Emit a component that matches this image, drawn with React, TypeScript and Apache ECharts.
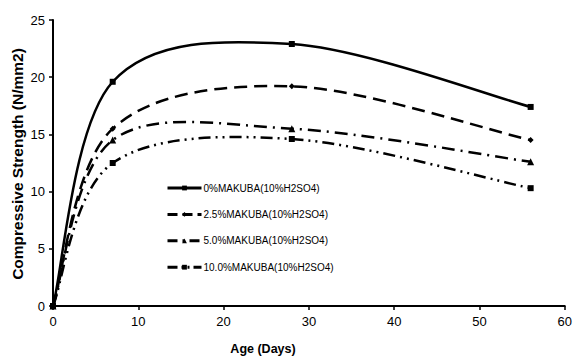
import React, { useEffect, useRef } from "react";
import * as echarts from "echarts";

// Curing age in days
const ages = [0, 7, 28, 56];

// Compressive strength (N/mm2) per MAKUBA replacement level, cured in 10% H2SO4
const mak0 = [0, 19.6, 22.9, 17.4];
const mak25 = [0, 15.5, 19.2, 14.5];
const mak50 = [0, 14.5, 15.5, 12.6];
const mak100 = [0, 12.5, 14.6, 10.3];

const seriesNames = [
  "0%MAKUBA(10%H2SO4)",
  "2.5%MAKUBA(10%H2SO4)",
  "5.0%MAKUBA(10%H2SO4)",
  "10.0%MAKUBA(10%H2SO4)",
];

const xTicks = [0, 10, 20, 30, 40, 50, 60];
const yTicks = [0, 5, 10, 15, 20, 25];

const FONT = "Liberation Sans, Arial, sans-serif";

// Cardinal (Catmull-Rom, 1/6 tension) bezier through pixel points, ends use the end point as its own neighbour
function smoothPath(pts: number[][]): string {
  let d = `M${pts[0][0]},${pts[0][1]}`;
  for (let i = 0; i < pts.length - 1; i++) {
    const p0 = pts[Math.max(i - 1, 0)];
    const p1 = pts[i];
    const p2 = pts[i + 1];
    const p3 = pts[Math.min(i + 2, pts.length - 1)];
    const c1x = p1[0] + (p2[0] - p0[0]) / 6;
    const c1y = p1[1] + (p2[1] - p0[1]) / 6;
    const c2x = p2[0] - (p3[0] - p1[0]) / 6;
    const c2y = p2[1] - (p3[1] - p1[1]) / 6;
    d += ` C${c1x},${c1y} ${c2x},${c2y} ${p2[0]},${p2[1]}`;
  }
  return d;
}

export default function App() {
  const ref = useRef<HTMLDivElement>(null);

  useEffect(() => {
    if (!ref.current) return;
    const chart = echarts.init(ref.current, null, { renderer: "svg" });

    const values = [mak0, mak25, mak50, mak100];
    const symbols = ["rect", "diamond", "triangle", "rect"];
    const dashArr: any[] = [null, [13, 7], [13, 6, 2, 6], [12, 5, 2, 5, 2, 5]];
    const legendDash: any[] = ["solid", [10, 5], [10, 5, 2, 5], [10, 4, 2, 4, 2, 4]];

    const curves = values.map((vals, i) => ({
      name: seriesNames[i] + " curve",
      type: "custom",
      z: 2,
      data: ages.map((a, j) => [a, vals[j]]),
      renderItem: (params: any, api: any) => {
        if (params.dataIndex !== 0) return null;
        const pts = ages.map((a, j) => api.coord([a, vals[j]]));
        return {
          type: "path",
          shape: { pathData: smoothPath(pts) },
          style: {
            fill: "none",
            stroke: "#000",
            lineWidth: 2.5,
            lineDash: dashArr[i],
          },
        };
      },
    }));

    const markers = values.map((vals, i) => ({
      name: seriesNames[i],
      type: "line",
      z: 3,
      data: ages.map((a, j) => [a, vals[j]]),
      symbol: symbols[i],
      symbolSize: i === 2 ? 7 : 6,
      showSymbol: true,
      lineStyle: { color: "#000", width: 0, opacity: 0 },
      itemStyle: { color: "#000" },
    }));

    chart.setOption({
      animation: false,
      backgroundColor: "#fff",
      grid: { left: 53, right: 10, top: 20, bottom: 52 },
      legend: {
        show: true,
        orient: "vertical",
        left: 162,
        top: 181,
        itemWidth: 34,
        itemHeight: 6,
        itemGap: 16.4,
        padding: [2, 4],
        textStyle: { fontFamily: FONT, fontSize: 10, color: "#000", padding: [0, 0, 0, -3] },
        data: seriesNames.map((n, i) => ({
          name: n,
          lineStyle: { color: "#000", width: 3, type: legendDash[i], opacity: 1 },
          itemStyle: { color: "#000" },
        })),
      },
      graphic: [
        {
          type: "text",
          x: 17,
          y: 164,
          rotation: Math.PI / 2,
          style: {
            text: "Compressive Strength (N/mm2)",
            font: `bold 15.5px ${FONT}`,
            fill: "#000",
            align: "center",
            verticalAlign: "middle",
          },
        },
        {
          type: "text",
          x: 263,
          y: 349,
          style: {
            text: "Age (Days)",
            font: `bold 12.5px ${FONT}`,
            fill: "#000",
            align: "center",
            verticalAlign: "middle",
          },
        },
      ],
      xAxis: {
        type: "value",
        min: 0,
        max: 60,
        interval: 10,
        axisLine: { lineStyle: { color: "#000", width: 2 } },
        axisTick: { show: true, length: 4, lineStyle: { color: "#000", width: 1.5 } },
        axisLabel: {
          fontFamily: FONT,
          fontSize: 13,
          color: "#000",
          margin: 9,
          formatter: (v: number) => (xTicks.includes(v) ? String(v) : ""),
        },
        splitLine: { show: false },
      },
      yAxis: {
        type: "value",
        min: 0,
        max: 25,
        interval: 5,
        axisLine: { show: true, lineStyle: { color: "#000", width: 2 } },
        axisTick: { show: true, length: 4, lineStyle: { color: "#000", width: 1.5 } },
        axisLabel: {
          fontFamily: FONT,
          fontSize: 13,
          color: "#000",
          margin: 8,
          formatter: (v: number) => (yTicks.includes(v) ? String(v) : ""),
        },
        splitLine: { show: false },
      },
      series: [...curves, ...markers],
    });

    return () => chart.dispose();
  }, []);

  return <div ref={ref} style={{ width: 575, height: 358, position: "absolute", left: 0, top: 0 }} />;
}
